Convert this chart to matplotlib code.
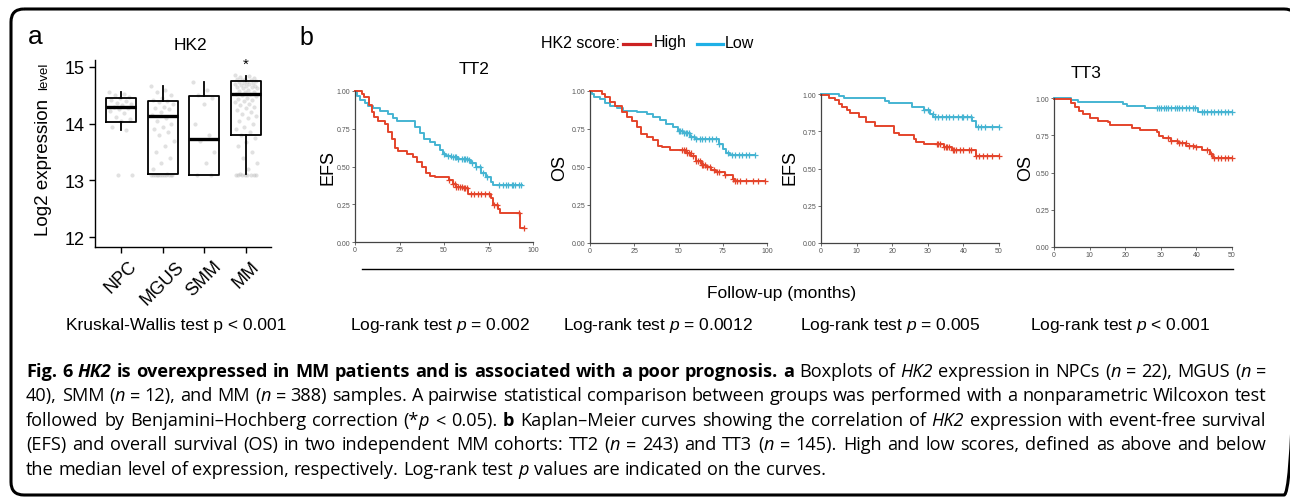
#!/usr/bin/env python3
"""HK2 expression boxplot + Kaplan-Meier panels with figure caption."""

import matplotlib

matplotlib.use('Agg')
import matplotlib.pyplot as plt
import matplotlib.transforms as mtransforms
import numpy as np
from matplotlib.patches import FancyBboxPatch

plt.rcParams['font.family'] = ['Liberation Sans', 'DejaVu Sans']
plt.rcParams['mathtext.fontset'] = 'custom'
plt.rcParams['mathtext.rm'] = 'Liberation Sans'
plt.rcParams['mathtext.it'] = 'Liberation Sans:italic'

W, H = 1290, 502
RED = '#e4442b'
BLUE = '#45b4d2'

# ---- panel a data ----
groups = ['NPC', 'MGUS', 'SMM', 'MM']
box_q1 = [14.03, 13.11, 13.10, 13.80]
box_med = [14.30, 14.14, 13.73, 14.52]
box_q3 = [14.45, 14.40, 14.48, 14.75]
whisk_lo = [13.89, 13.11, 13.10, 13.11]
whisk_hi = [14.55, 14.67, 14.73, 14.84]

npc_points = [14.55, 14.52, 14.5, 14.47, 14.45, 14.42, 14.4, 14.37, 14.35, 14.33, 14.3,
              14.28, 14.26, 14.22, 14.18, 14.12, 14.08, 14.04, 13.95, 13.89, 13.1, 13.1]
mgus_points = [14.67, 14.6, 14.55, 14.5, 14.45, 14.42, 14.4, 14.38, 14.35, 14.3, 14.28,
               14.25, 14.2, 14.15, 14.1, 14.05, 14.0, 13.95, 13.9, 13.85, 13.8, 13.7,
               13.6, 13.5, 13.4, 13.3, 13.2, 13.12, 13.1, 13.1, 13.1, 13.1, 13.1, 13.1,
               13.1, 13.1, 13.1, 13.1, 13.1, 13.1]
smm_points = [14.73, 14.6, 14.5, 14.45, 14.35, 14.0, 13.8, 13.7, 13.5, 13.3, 13.1, 13.1]
mm_points = [14.86, 14.84, 14.82, 14.8, 14.79, 14.78, 14.77, 14.76, 14.75, 14.74, 14.73,
             14.72, 14.71, 14.7, 14.69, 14.68, 14.67, 14.66, 14.65, 14.64, 14.63, 14.62,
             14.6, 14.58, 14.56, 14.55, 14.53, 14.52, 14.5, 14.48, 14.46, 14.44, 14.42,
             14.4, 14.38, 14.35, 14.32, 14.3, 14.27, 14.24, 14.2, 14.17, 14.13, 14.1,
             14.05, 14.0, 13.95, 13.9, 13.85, 13.8, 13.75, 13.68, 13.6, 13.5, 13.4,
             13.3, 13.2, 13.12, 13.1, 13.1, 13.1, 13.1, 13.1, 13.1, 13.1, 13.1]
all_points = [npc_points, mgus_points, smm_points, mm_points]

# ---- panel b data: step change points (months, survival) and censor times ----
tt2_efs_high_t = [0, 4, 5, 8, 9.3, 10.8, 13, 16.8, 18.7, 20.6, 22.4, 24.3, 29, 32.7, 34.6,
                  37.4, 40, 42, 45, 53, 55, 57, 60.7, 63.6, 76.6, 77.6, 80.4, 81.3, 92.9, 95]
tt2_efs_high_s = [1.0, 0.98, 0.96, 0.905, 0.86, 0.83, 0.80, 0.78, 0.73, 0.68, 0.62, 0.60,
                  0.585, 0.56, 0.53, 0.50, 0.46, 0.44, 0.43, 0.41, 0.385, 0.365, 0.355,
                  0.32, 0.29, 0.245, 0.22, 0.19, 0.09, 0.09]
tt2_efs_high_c = [53, 55, 56, 57, 58, 59, 60, 61, 62, 63, 65, 67, 69, 71, 73, 75, 78, 80, 92, 95]
tt2_efs_low_t = [0, 1, 2.8, 5.6, 7.5, 10.3, 14, 18.7, 21.5, 23.4, 33.6, 36.4, 39, 42, 45,
                 47.7, 49.5, 51.4, 54.2, 58, 63.6, 65.4, 68, 71, 73.8, 76.6, 77.6, 94]
tt2_efs_low_s = [1.0, 0.97, 0.94, 0.92, 0.90, 0.89, 0.87, 0.85, 0.82, 0.80, 0.76, 0.72,
                 0.685, 0.66, 0.64, 0.61, 0.585, 0.57, 0.56, 0.55, 0.54, 0.52, 0.50, 0.46,
                 0.43, 0.40, 0.38, 0.38]
tt2_efs_low_c = [50, 52, 54, 55, 56, 57, 58, 60, 61, 62, 63, 64, 66, 68, 70, 72, 74, 81, 83,
                 85, 86, 88, 89, 90, 92, 93]

tt2_os_high_t = [0, 5, 6.6, 8.5, 11.3, 14, 17.9, 20.7, 23.5, 26.3, 29, 32, 35.7, 38.5, 40.4,
                 45, 54.5, 57.3, 60, 63, 65.8, 68.6, 71.4, 76, 80.8, 81.8, 99]
tt2_os_high_s = [1.0, 1.0, 0.98, 0.96, 0.93, 0.90, 0.86, 0.83, 0.80, 0.76, 0.72, 0.70, 0.675,
                 0.64, 0.63, 0.615, 0.59, 0.57, 0.54, 0.51, 0.50, 0.48, 0.465, 0.45, 0.42,
                 0.41, 0.41]
tt2_os_high_c = [52, 53, 54, 55, 56, 57, 58, 60, 61, 62, 63, 64, 65, 66, 68, 70, 72, 73, 76,
                 81, 82, 83, 85, 88, 92, 95, 99]
tt2_os_low_t = [0, 1, 2, 5.6, 8.5, 11.3, 15, 18.8, 26.3, 32, 35.7, 39.5, 43.2, 47, 49.8,
                52.6, 56.4, 59.2, 73, 75.2, 77, 79, 93]
tt2_os_low_s = [1.0, 0.98, 0.96, 0.95, 0.92, 0.90, 0.885, 0.87, 0.86, 0.85, 0.83, 0.81,
                0.785, 0.76, 0.74, 0.725, 0.70, 0.685, 0.65, 0.62, 0.59, 0.58, 0.58]
tt2_os_low_c = [50, 51, 52, 53, 54, 55, 56, 57, 59, 60, 62, 63, 65, 67, 69, 71, 73, 78, 80,
                82, 84, 86, 88, 90, 93]

tt3_efs_high_t = [0, 2.2, 4, 5, 5.9, 7.3, 8.2, 10.6, 12.5, 15.3, 20.4, 21.8, 26, 26.8, 28.8,
                  34.5, 36.8, 43.4, 50]
tt3_efs_high_s = [0.99, 0.97, 0.96, 0.933, 0.91, 0.895, 0.873, 0.844, 0.815, 0.788, 0.739,
                  0.725, 0.70, 0.68, 0.665, 0.643, 0.627, 0.587, 0.587]
tt3_efs_high_c = [32.5, 33, 33.5, 34.5, 35, 35.5, 36, 37, 37.5, 38, 39, 40, 41.5, 42, 43.5,
                  44.5, 45.5, 46.5, 48, 50]
tt3_efs_low_t = [0, 5, 6.4, 18, 19, 25.6, 28.8, 30.7, 31.6, 42.4, 43.4, 50]
tt3_efs_low_s = [1.0, 0.985, 0.97, 0.955, 0.94, 0.91, 0.89, 0.866, 0.845, 0.82, 0.777, 0.777]
tt3_efs_low_c = [29, 30, 31.5, 32, 33, 34, 35, 36, 37, 38.5, 39.5, 40, 41, 42, 44, 45, 46,
                 48, 50]

tt3_os_high_t = [0, 4.9, 5.8, 7, 8.2, 10, 12.4, 15.2, 15.7, 21.8, 24.1, 28.8, 29.5, 30.7,
                 33, 34.9, 37.2, 39.6, 41.5, 43.8, 44.7, 50]
tt3_os_high_s = [0.99, 0.966, 0.937, 0.915, 0.892, 0.863, 0.847, 0.84, 0.818, 0.80, 0.787,
                 0.769, 0.742, 0.729, 0.713, 0.70, 0.68, 0.668, 0.652, 0.623, 0.594, 0.594]
tt3_os_high_c = [32, 33, 34.5, 35, 36, 37, 38, 39, 40, 43, 44, 45, 46, 47, 48, 49, 50]
tt3_os_low_t = [0, 4.9, 6.8, 19.4, 20.4, 25.5, 40.5, 50]
tt3_os_low_s = [1.0, 0.987, 0.975, 0.96, 0.948, 0.93, 0.904, 0.904]
tt3_os_low_c = [29, 29.5, 30, 31, 31.5, 32, 33, 34, 34.5, 35, 36, 37, 38, 39, 39.5, 41.5,
                42, 43, 44, 45, 46, 47, 48, 49, 50]

km_panels = [
    ('EFS', 100, [0, 25, 50, 75, 100],
     (tt2_efs_high_t, tt2_efs_high_s, tt2_efs_high_c), (tt2_efs_low_t, tt2_efs_low_s, tt2_efs_low_c)),
    ('OS', 100, [0, 25, 50, 75, 100],
     (tt2_os_high_t, tt2_os_high_s, tt2_os_high_c), (tt2_os_low_t, tt2_os_low_s, tt2_os_low_c)),
    ('EFS', 50, [0, 10, 20, 30, 40, 50],
     (tt3_efs_high_t, tt3_efs_high_s, tt3_efs_high_c), (tt3_efs_low_t, tt3_efs_low_s, tt3_efs_low_c)),
    ('OS', 50, [0, 10, 20, 30, 40, 50],
     (tt3_os_high_t, tt3_os_high_s, tt3_os_high_c), (tt3_os_low_t, tt3_os_low_s, tt3_os_low_c)),
]
# axes boxes in pixels: left, right, top (y=1), bottom (y=0)
km_boxes = [(355, 533, 92, 243), (590, 767, 92, 244), (821, 999, 95, 244), (1054, 1232, 99, 248)]
km_label_x = [328, 560, 790, 1026]
pvalues = ['Log-rank test $p$ = 0.002', 'Log-rank test $p$ = 0.0012',
           'Log-rank test $p$ = 0.005', 'Log-rank test $p$ < 0.001']
pvalue_x = [440, 658, 890, 1120]


def px_axes(fig, left, right, top, bottom):
    return fig.add_axes([left / W, 1 - bottom / H, (right - left) / W, (bottom - top) / H])


fig = plt.figure(figsize=(W / 100, H / 100), dpi=100)

# overlay axes in pixel coordinates (y down) for frame and loose text
ov = fig.add_axes([0, 0, 1, 1])
ov.set_xlim(0, W)
ov.set_ylim(H, 0)
ov.axis('off')
ov.add_patch(FancyBboxPatch((11, 10), 1286, 486, boxstyle='round,pad=0,rounding_size=13',
                            fill=False, ec='black', lw=2.2))

# ---- panel a ----
ax = px_axes(fig, 95, 271, 61, 248)
stats = []
for i, name in enumerate(groups):
    stats.append({'label': name, 'med': box_med[i], 'q1': box_q1[i], 'q3': box_q3[i],
                  'whislo': whisk_lo[i], 'whishi': whisk_hi[i], 'fliers': []})
for i, pts in enumerate(all_points):
    offs = np.array([((k * 0.6180339) % 1.0 - 0.5) * 0.55 for k in range(len(pts))])
    ax.scatter(i + 1 + offs, pts, s=9, color='#b5b5b5', alpha=0.4, lw=0, zorder=1)
ax.bxp(stats, widths=0.72, showcaps=False, patch_artist=False,
       boxprops=dict(color='black', lw=1.3),
       whiskerprops=dict(color='black', lw=1.3),
       medianprops=dict(color='black', lw=2.4))
ax.text(4, 15.05, '*', ha='center', va='center', fontsize=11)
ax.set_xlim(0.38, 4.6)
ax.set_ylim(11.83, 15.12)
ax.set_yticks([12, 13, 14, 15])
ax.set_xticks([1, 2, 3, 4])
ax.set_xticklabels(groups, rotation=45, ha='center', fontsize=13)
shift = mtransforms.ScaledTranslation(6 / 100, -5 / 100, fig.dpi_scale_trans)
for lbl in ax.get_xticklabels():
    lbl.set_transform(lbl.get_transform() + shift)
ax.tick_params(axis='y', labelsize=13, length=4, width=1)
ax.tick_params(axis='x', length=4, width=1)
for s in ['top', 'right']:
    ax.spines[s].set_visible(False)
for s in ['left', 'bottom']:
    ax.spines[s].set_linewidth(1)

ov.text(35, 37, 'a', fontsize=19, ha='center', va='center')
ov.text(190, 46, 'HK2', fontsize=12.5, ha='center', va='center')
ov.text(43, 167, 'Log2 expression', fontsize=13.5, rotation=90, ha='center', va='center')
ov.text(44, 76, 'level', fontsize=9.5, rotation=90, ha='center', va='center')
ov.text(176, 326, 'Kruskal-Wallis test p < 0.001', fontsize=12.5, ha='center', va='center')

# ---- panel b ----
ov.text(306, 38, 'b', fontsize=18, ha='center', va='center')
ov.text(620, 43, 'HK2 score:', fontsize=11.5, ha='right', va='center')
ov.plot([623, 650], [45, 45], color='#cc2222', lw=2.3)
ov.text(654, 43, 'High', fontsize=11.5, ha='left', va='center')
ov.plot([697, 723], [45, 45], color='#1fb0e6', lw=2.3)
ov.text(725, 43, 'Low', fontsize=11.5, ha='left', va='center')
ov.text(474, 70, 'TT2', fontsize=12.5, ha='center', va='center')
ov.text(1086, 73, 'TT3', fontsize=12.5, ha='center', va='center')

for k, (lab, tmax, xt, high, low) in enumerate(km_panels):
    left, right, top, bottom = km_boxes[k]
    kax = px_axes(fig, left, right, top, bottom)
    for (t, s, c), col in [(low, BLUE), (high, RED)]:
        kax.step(t, s, where='post', color=col, lw=1.4, clip_on=False)
        idx = np.searchsorted(t, c, side='right') - 1
        kax.plot(c, np.array(s)[idx], ls='none', marker='+', ms=5, mew=0.9, color=col,
                 clip_on=False)
    kax.set_xlim(0, tmax)
    kax.set_ylim(0, 1)
    kax.set_xticks(xt)
    kax.set_yticks([0, 0.25, 0.5, 0.75, 1.0])
    kax.set_yticklabels(['0.00', '0.25', '0.50', '0.75', '1.00'])
    kax.tick_params(labelsize=5, labelcolor='#555555', length=2, width=0.6, color='#555555',
                    pad=1.2)
    for s in ['top', 'right']:
        kax.spines[s].set_visible(False)
    for s in ['left', 'bottom']:
        kax.spines[s].set_color('#444444')
        kax.spines[s].set_linewidth(0.9)
    ov.text(km_label_x[k], 168, lab, fontsize=13, rotation=90, ha='center', va='center')
    ov.text(pvalue_x[k], 326, pvalues[k], fontsize=12.5, ha='center', va='center')

ov.plot([362, 1233], [270, 270], color='black', lw=1)
ov.text(782, 294, 'Follow-up (months)', fontsize=12.5, ha='center', va='center')

# ---- caption ----
CAP_FONT = ['Open Sans', 'DejaVu Sans']
caption_lines = [
    [('Fig. 6 ', 'b'), ('HK2', 'bi'), (' is overexpressed in MM patients and is associated with a poor prognosis. a', 'b'),
     (' Boxplots of ', 'n'), ('HK2', 'i'), (' expression in NPCs (', 'n'), ('n', 'i'),
     (' = 22), MGUS (', 'n'), ('n', 'i'), (' =', 'n')],
    [('40), SMM (', 'n'), ('n', 'i'), (' = 12), and MM (', 'n'), ('n', 'i'),
     (' = 388) samples. A pairwise statistical comparison between groups was performed with a nonparametric Wilcoxon test', 'n')],
    [('followed by Benjamini\u2013Hochberg correction (*', 'n'), ('p', 'i'), (' < 0.05). ', 'n'), ('b', 'b'),
     (' Kaplan\u2013Meier curves showing the correlation of ', 'n'), ('HK2', 'i'),
     (' expression with event-free survival', 'n')],
    [('(EFS) and overall survival (OS) in two independent MM cohorts: TT2 (', 'n'), ('n', 'i'),
     (' = 243) and TT3 (', 'n'), ('n', 'i'),
     (' = 145). High and low scores, defined as above and below', 'n')],
    [('the median level of expression, respectively. Log-rank test ', 'n'), ('p', 'i'),
     (' values are indicated on the curves.', 'n')],
]
caption_y = [377, 401.5, 426, 450.5, 475]
justify = [True, True, True, True, False]
CAP_LEFT, CAP_RIGHT = 26, 1266

renderer = fig.canvas.get_renderer()


def split_words(segments):
    words, current = [], []
    for text, style in segments:
        for i, part in enumerate(text.split(' ')):
            if i > 0 and current:
                words.append(current)
                current = []
            if part:
                current.append((part, style))
    if current:
        words.append(current)
    return words


def make_text(part, style, y, size):
    return ov.text(0, y, part, fontsize=size, family=CAP_FONT, va='baseline', ha='left',
                   fontweight='bold' if 'b' in style else 'normal',
                   fontstyle='italic' if 'i' in style else 'normal')


def natural_width(segments, size):
    words = split_words(segments)
    total = 0.0
    for w in words:
        for part, style in w:
            t = make_text(part, style, 0, size)
            total += t.get_window_extent(renderer).width
            t.remove()
    return total + (len(words) - 1) * size * 100 / 72 * 0.26


def draw_caption_line(segments, x0, y, width, full, size):
    words = split_words(segments)
    placed, total = [], 0.0
    for w in words:
        items = []
        for part, style in w:
            t = make_text(part, style, y, size)
            bw = t.get_window_extent(renderer).width
            items.append((t, bw))
            total += bw
        placed.append(items)
    gap = size * 100 / 72 * 0.26
    if full and len(words) > 1:
        gap = max((width - total) / (len(words) - 1), 1.5)
    x = x0
    for items in placed:
        for t, bw in items:
            t.set_x(x)
            x += bw
        x += gap


base_size = 11.0
widest = max(natural_width(line, base_size) for line, full in zip(caption_lines, justify) if full)
cap_size = base_size * (CAP_RIGHT - CAP_LEFT) / widest

for line, y, full in zip(caption_lines, caption_y, justify):
    draw_caption_line(line, CAP_LEFT, y, CAP_RIGHT - CAP_LEFT, full, cap_size)

fig.savefig('out.png', dpi=100)
